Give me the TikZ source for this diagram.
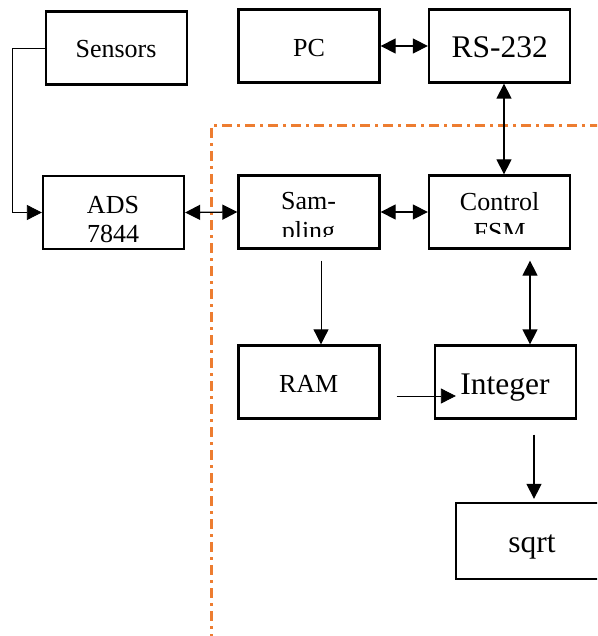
\documentclass[tikz,border=0pt]{standalone}
\usepackage{fontspec}
\setmainfont{Liberation Serif}
\usetikzlibrary{arrows.meta,calc}
\definecolor{offorange}{RGB}{237,125,49}
\begin{document}
\begin{tikzpicture}[x=1pt,y=-1pt,
 box/.style={draw,line width=2.3pt,minimum width=141pt,minimum height=73pt,inner sep=0pt},
 lbl/.style={font=\fontsize{26}{29}\selectfont,inner sep=0pt,align=center,anchor=base},
 big/.style={font=\fontsize{31.5}{35}\selectfont,inner sep=0pt,anchor=base},
 dbl/.style={line width=1.3pt,{Triangle[length=15pt,width=15pt]}-{Triangle[length=15pt,width=15pt]}},
 one/.style={line width=0.8pt,-{Triangle[length=15pt,width=15pt]}},
 one2/.style={line width=1.3pt,-{Triangle[length=15pt,width=15pt]}},
 border/.style={draw=offorange,line width=3pt,dash pattern=on 10pt off 5pt on 3pt off 5pt}
]
\useasboundingbox (0,0) rectangle (597,636);
\begin{scope}
\clip (0,0) rectangle (597,636);

% boundary
\coordinate (bc) at (211,126);
\coordinate (br) at (600,126);
\coordinate (bb) at (211,640);
\draw[border] (br) -- (bc) -- (bb);

% boxes
\node[box] (sensors) at (116.5,48) {};
\node[box] (pc) at (309,46) {};
\node[box] (rs) at (499.5,46) {};
\node[box] (ads) at (113.5,212.5) {};
\node[box] (samp) at (309,212) {};
\node[box] (ctrl) at (499.5,212) {};
\node[box] (ram) at (309,382) {};
\node[box] (int) at (505.5,382) {};
\node[box,minimum width=150pt,minimum height=76pt] (sq) at (531,541) {};

% labels
\node[lbl] (sensors-t) at (116,58) {Sensors};
\node[lbl] (pc-t) at (309,57) {PC};
\node[big] (rs-t) at (499.7,58) {RS-232};
\begin{scope}
\clip (42,176) rectangle (185,242);
\node[lbl] (ads-t) at (113,242) {ADS\\7844};
\end{scope}
\begin{scope}
\clip (238,176) rectangle (380,236);
\node[lbl] (samp-t) at (308.5,239) {Sam-\\pling};
\end{scope}
\begin{scope}
\clip (428,176) rectangle (571,233);
\node[lbl] (ctrl-t) at (499.7,240) {Control\\FSM};
\end{scope}
\node[lbl] (ram-t) at (308.7,392) {RAM};
\node[big] (int-t) at (505,394) {Integer};
\node[big] (sq-t) at (532,552) {sqrt};

% connectors
\draw[one] (sensors.west) -- ++(-32,0) |- (ads.west);
\draw[dbl] (ads.east) -- (samp.west);
\draw[dbl] (pc.east) -- (rs.west);
\draw[dbl] ([xshift=4.5pt]rs.south) -- ([xshift=4.5pt]ctrl.north);
\draw[dbl] (samp.east) -- (ctrl.west);
\coordinate (s1) at ([xshift=12pt,yshift=-11pt]samp.south);
\draw[one] (s1) -- ([xshift=12pt]ram.north);
\coordinate (c1) at ([xshift=30.5pt,yshift=-11pt]ctrl.south);
\draw[dbl] (c1) -- ([xshift=24.5pt]int.north);
\coordinate (r1) at ([xshift=16pt,yshift=-14pt]ram.east);
\coordinate (i1) at ([xshift=22pt,yshift=-14pt]int.west);
\draw[one] (r1) -- (i1);
\coordinate (i2) at ([xshift=28.5pt,yshift=-15pt]int.south);
\coordinate (i3) at ([yshift=3pt]i2 |- sq.north);
\draw[one2] (i2) -- (i3);
\end{scope}
\end{tikzpicture}
\end{document}
